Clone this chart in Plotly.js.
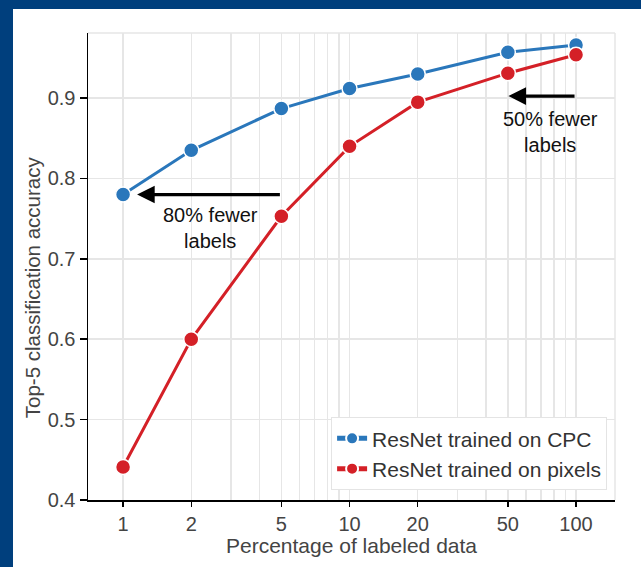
<!DOCTYPE html>
<html>
<head>
<meta charset="utf-8">
<script src="https://cdn.plot.ly/plotly-3.0.1.min.js"></script>
<style>
html,body{margin:0;padding:0;background:#003f7d;width:641px;height:567px;overflow:hidden;}
#chart{position:absolute;left:13px;top:9px;width:628px;height:558px;background:#fff;}
</style>
</head>
<body>
<div id="chart"></div>
<script>
const pct = [1, 2, 5, 10, 20, 50, 100];
const cpcAcc = [0.780, 0.835, 0.887, 0.912, 0.930, 0.957, 0.966];
const pixelAcc = [0.441, 0.600, 0.753, 0.840, 0.895, 0.931, 0.954];
const xTickVals = [1, 2, 5, 10, 20, 50, 100];
const xTickText = ['1', '2', '5', '10', '20', '50', '100'];
const xMinorVals = [3, 4, 6, 7, 8, 9, 30, 40, 60, 70, 80, 90];
const yTickVals = [0.4, 0.5, 0.6, 0.7, 0.8, 0.9];

const FONT = 'Liberation Sans, Arial, Helvetica, sans-serif';
const GRID = '#e6e6e6';
const TXT = '#444';

const traces = [
  {
    x: pct, y: cpcAcc, type: 'scatter', mode: 'lines+markers',
    name: 'ResNet trained on CPC',
    line: {color: '#2a77bb', width: 3},
    marker: {color: '#2a77bb', size: 15, line: {color: '#ffffff', width: 1.5}}
  },
  {
    x: pct, y: pixelAcc, type: 'scatter', mode: 'lines+markers',
    name: 'ResNet trained on pixels',
    line: {color: '#d42027', width: 3},
    marker: {color: '#d42027', size: 15, line: {color: '#ffffff', width: 1.5}}
  }
];

const layout = {
  width: 628, height: 558,
  margin: {l: 75, r: 26, t: 24, b: 67},
  paper_bgcolor: '#ffffff',
  plot_bgcolor: '#ffffff',
  font: {family: FONT, size: 20, color: TXT},
  showlegend: true,
  legend: {
    x: 0.985, y: 0.021, xanchor: 'right', yanchor: 'bottom',
    bgcolor: '#ffffff', bordercolor: '#e4e4e4', borderwidth: 1,
    font: {family: FONT, size: 21, color: '#333'},
    itemsizing: 'constant',
    tracegroupgap: 0
  },
  xaxis: {
    type: 'log',
    range: [Math.log10(0.70), Math.log10(148.6)],
    tickmode: 'array', tickvals: xTickVals, ticktext: xTickText,
    ticks: 'outside', ticklen: 5, tickwidth: 1.5, tickcolor: '#000',
    showline: true, linecolor: '#000', linewidth: 1.5,
    showgrid: true, gridcolor: GRID, gridwidth: 1.5,
    minor: {tickvals: xMinorVals, showgrid: true, gridcolor: GRID, gridwidth: 1.5, ticks: ''},
    zeroline: false,
    tickfont: {family: FONT, size: 20, color: TXT},
    title: {text: 'Percentage of labeled data', font: {family: FONT, size: 21, color: TXT}, standoff: 2}
  },
  yaxis: {
    range: [0.4, 0.981],
    tickmode: 'array', tickvals: yTickVals, tickformat: '.1f',
    ticks: 'outside', ticklen: 7, tickwidth: 1.5, tickcolor: '#000',
    showline: true, linecolor: '#000', linewidth: 1.5,
    showgrid: true, gridcolor: GRID, gridwidth: 1.5,
    zeroline: false,
    tickfont: {family: FONT, size: 20, color: TXT}
  },
  shapes: [
    {type: 'line', xref: 'paper', yref: 'paper', x0: 0, x1: 1, y0: 1, y1: 1, line: {color: GRID, width: 1.5}},
    {type: 'line', xref: 'paper', yref: 'paper', x0: 1, x1: 1, y0: 0, y1: 1, line: {color: GRID, width: 1.5}}
  ],
  annotations: [
    {
      x: -0.106, y: 0.456, xref: 'paper', yref: 'paper', showarrow: false,
      xanchor: 'center', yanchor: 'middle', textangle: -90,
      text: 'Top-5 classification accuracy', font: {family: FONT, size: 20.5, color: TXT}
    },
    {
      x: Math.log10(1.153), y: 0.780, ax: Math.log10(5), ay: 0.780,
      xref: 'x', yref: 'y', axref: 'x', ayref: 'y',
      text: '', showarrow: true, arrowhead: 2, arrowsize: 1.1, arrowwidth: 3.2, arrowcolor: '#000'
    },
    {
      x: Math.log10(2.42), y: 0.738, xref: 'x', yref: 'y', showarrow: false,
      text: '80% fewer<br>labels', font: {family: FONT, size: 20, color: '#111'}
    },
    {
      x: Math.log10(50.3), y: 0.9025, ax: Math.log10(100), ay: 0.9025,
      xref: 'x', yref: 'y', axref: 'x', ayref: 'y',
      text: '', showarrow: true, arrowhead: 2, arrowsize: 1.1, arrowwidth: 3.2, arrowcolor: '#000'
    },
    {
      x: Math.log10(77), y: 0.858, xref: 'x', yref: 'y', showarrow: false,
      text: '50% fewer<br>labels', font: {family: FONT, size: 20, color: '#111'}
    }
  ]
};

Plotly.newPlot('chart', traces, layout, {displayModeBar: false, staticPlot: true});
</script>
</body>
</html>
